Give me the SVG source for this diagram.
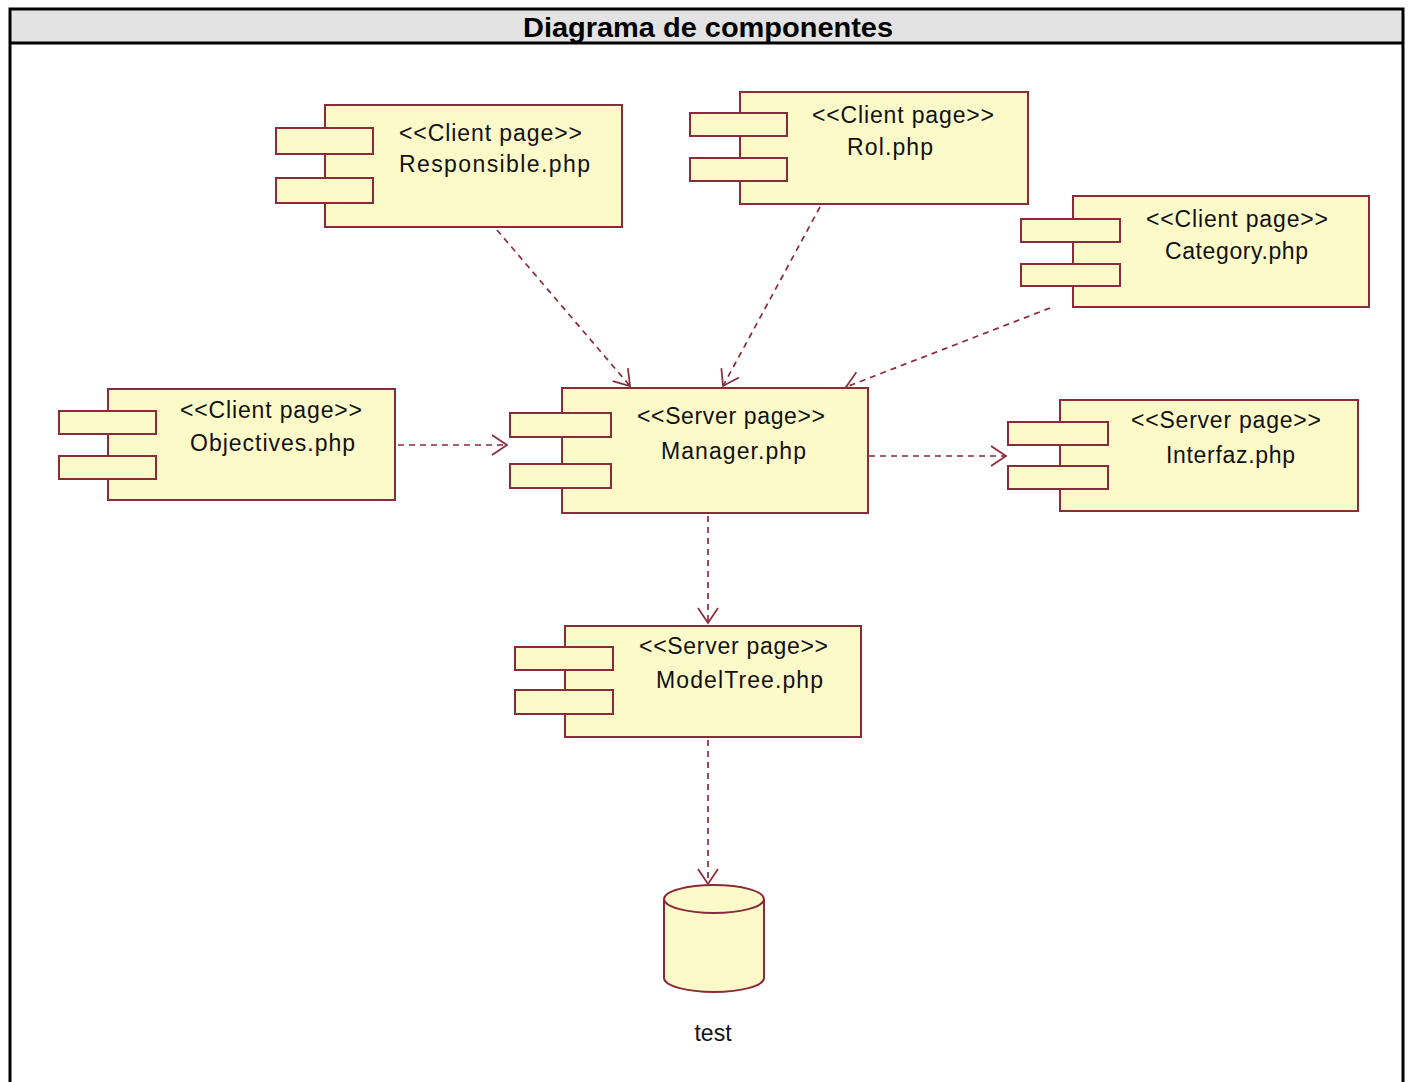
<svg xmlns="http://www.w3.org/2000/svg" width="1412" height="1082" viewBox="0 0 1412 1082">
  <style>
    .frame { fill: none; stroke: #000; stroke-width: 3; }
    .body { fill: #fdfac9; stroke: #8b2a3a; stroke-width: 2; }
    .port { fill: #fdfac9; stroke: #8b2a3a; stroke-width: 2; }
    .label { font-family: "Liberation Sans", Arial, sans-serif; font-size: 23px; fill: #111; }
    .title { font-family: "Liberation Sans", Arial, sans-serif; font-size: 28px; font-weight: bold; fill: #000; }
    .dep { fill: none; stroke: #8b2a3a; stroke-width: 1.7; stroke-dasharray: 6 5; }
  </style>
  <defs>
    <marker id="open" markerUnits="userSpaceOnUse" markerWidth="20" markerHeight="24" refX="16" refY="11" orient="auto">
      <path d="M1,1 L16,11 L1,21" fill="none" stroke="#8b2a3a" stroke-width="1.7"/>
    </marker>
  </defs>

  <rect x="0" y="0" width="1412" height="1082" fill="#fff"/>

  <!-- frame and title bar -->
  <g id="frame">
    <rect x="10" y="9" width="1393" height="34" fill="#e3e3e3"/>
    <path class="frame" d="M10,1082 V9 H1403 V1082"/>
    <line x1="10" y1="43" x2="1403" y2="43" stroke="#000" stroke-width="3"/>
    <text class="title" x="708" y="37" text-anchor="middle" textLength="370" lengthAdjust="spacingAndGlyphs">Diagrama de componentes</text>
  </g>

  <!-- dependencies -->
  <g id="connectors">
    <line class="dep" x1="497" y1="230" x2="630" y2="386" marker-end="url(#open)"/>
    <line class="dep" x1="820" y1="207" x2="723" y2="386" marker-end="url(#open)"/>
    <line class="dep" x1="1050" y1="308" x2="846" y2="387" marker-end="url(#open)"/>
    <line class="dep" x1="398" y1="445" x2="507" y2="445" marker-end="url(#open)"/>
    <line class="dep" x1="869" y1="456" x2="1006" y2="456" marker-end="url(#open)"/>
    <line class="dep" x1="708" y1="516" x2="708" y2="623" marker-end="url(#open)"/>
    <line class="dep" x1="708" y1="740" x2="708" y2="884" marker-end="url(#open)"/>
  </g>

  <!-- Responsible.php -->
  <g id="responsible">
    <rect class="body" x="325" y="105" width="297" height="122"/>
    <rect class="port" x="276" y="128" width="97" height="26"/>
    <rect class="port" x="276" y="178" width="97" height="25"/>
    <text class="label" x="399" y="141" textLength="183" lengthAdjust="spacing">&lt;&lt;Client page&gt;&gt;</text>
    <text class="label" x="399" y="172" textLength="191" lengthAdjust="spacing">Responsible.php</text>
  </g>

  <!-- Rol.php -->
  <g id="rol">
    <rect class="body" x="740" y="92" width="288" height="112"/>
    <rect class="port" x="690" y="113" width="97" height="23"/>
    <rect class="port" x="690" y="158" width="97" height="23"/>
    <text class="label" x="812" y="123" textLength="182" lengthAdjust="spacing">&lt;&lt;Client page&gt;&gt;</text>
    <text class="label" x="847" y="155" textLength="86" lengthAdjust="spacing">Rol.php</text>
  </g>

  <!-- Category.php -->
  <g id="category">
    <rect class="body" x="1073" y="196" width="296" height="111"/>
    <rect class="port" x="1021" y="219" width="99" height="23"/>
    <rect class="port" x="1021" y="264" width="99" height="22"/>
    <text class="label" x="1146" y="227" textLength="182" lengthAdjust="spacing">&lt;&lt;Client page&gt;&gt;</text>
    <text class="label" x="1165" y="259" textLength="143" lengthAdjust="spacing">Category.php</text>
  </g>

  <!-- Objectives.php -->
  <g id="objectives">
    <rect class="body" x="108" y="389" width="287" height="111"/>
    <rect class="port" x="59" y="411" width="97" height="23"/>
    <rect class="port" x="59" y="456" width="97" height="23"/>
    <text class="label" x="180" y="418" textLength="182" lengthAdjust="spacing">&lt;&lt;Client page&gt;&gt;</text>
    <text class="label" x="190" y="451" textLength="165" lengthAdjust="spacing">Objectives.php</text>
  </g>

  <!-- Manager.php -->
  <g id="manager">
    <rect class="body" x="562" y="388" width="306" height="125"/>
    <rect class="port" x="510" y="413" width="101" height="24"/>
    <rect class="port" x="510" y="464" width="101" height="24"/>
    <text class="label" x="637" y="424" textLength="188" lengthAdjust="spacing">&lt;&lt;Server page&gt;&gt;</text>
    <text class="label" x="661" y="459" textLength="145" lengthAdjust="spacing">Manager.php</text>
  </g>

  <!-- Interfaz.php -->
  <g id="interfaz">
    <rect class="body" x="1060" y="400" width="298" height="111"/>
    <rect class="port" x="1008" y="422" width="100" height="23"/>
    <rect class="port" x="1008" y="466" width="100" height="23"/>
    <text class="label" x="1131" y="428" textLength="190" lengthAdjust="spacing">&lt;&lt;Server page&gt;&gt;</text>
    <text class="label" x="1166" y="463" textLength="129" lengthAdjust="spacing">Interfaz.php</text>
  </g>

  <!-- ModelTree.php -->
  <g id="modeltree">
    <rect class="body" x="565" y="626" width="296" height="111"/>
    <rect class="port" x="515" y="647" width="98" height="23"/>
    <rect class="port" x="515" y="690" width="98" height="24"/>
    <text class="label" x="639" y="654" textLength="189" lengthAdjust="spacing">&lt;&lt;Server page&gt;&gt;</text>
    <text class="label" x="656" y="688" textLength="167" lengthAdjust="spacing">ModelTree.php</text>
  </g>

  <!-- test database -->
  <g id="test">
    <path class="body" d="M664,899 V978 A50,14 0 0 0 764,978 V899"/>
    <ellipse class="body" cx="714" cy="899" rx="50" ry="14"/>
    <text class="label" x="713" y="1041" text-anchor="middle">test</text>
  </g>
</svg>
